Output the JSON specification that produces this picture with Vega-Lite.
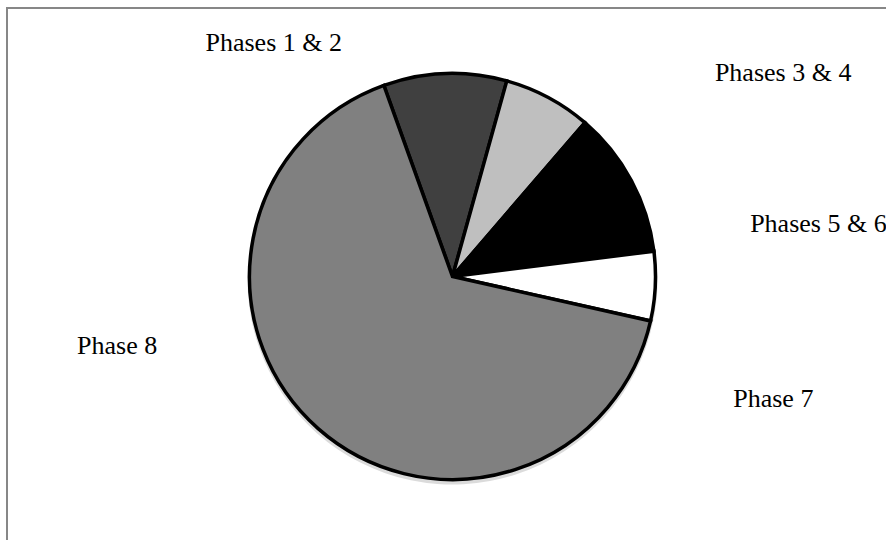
{
  "$schema": "https://vega.github.io/schema/vega-lite/v6.json",
  "usermeta": {"embedOptions": {"actions": false}},
  "autosize": {"type": "none"},
  "width": 891,
  "height": 537,
  "padding": {"left": 7, "top": 8, "right": -12, "bottom": -5},
  "background": "#ffffff",
  "config": {
    "view": {"stroke": null},
    "text": {"font": "Liberation Serif", "fontSize": 26, "fill": "#000000"}
  },
  "datasets": {
    "phases": [
      {"phase": "Phases 1 & 2", "k": 1, "value": 9.8},
      {"phase": "Phases 3 & 4", "k": 2, "value": 7.0},
      {"phase": "Phases 5 & 6", "k": 3, "value": 11.7},
      {"phase": "Phase 7", "k": 4, "value": 5.5},
      {"phase": "Phase 8", "k": 5, "value": 66.0}
    ],
    "frame": [{"name": "chart area"}]
  },
  "layer": [
    {
      "data": {"name": "frame"},
      "mark": {"type": "rect", "fill": null, "fillOpacity": 0, "stroke": "#878787", "strokeWidth": 2, "x2Offset": 40, "y2Offset": 40},
      "encoding": {}
    },
    {
      "data": {"name": "phases"},
      "encoding": {
        "theta": {"field": "value", "type": "quantitative", "stack": true, "scale": {"range": [-0.3449, 5.9383]}},
        "order": {"field": "k", "type": "quantitative"}
      },
      "layer": [
        {
          "mark": {"type": "arc", "outerRadius": 205, "fill": "#000000", "opacity": 0.14, "yOffset": 3},
          "encoding": {}
        },
        {
          "mark": {"type": "arc", "outerRadius": 203, "stroke": "#000000", "strokeWidth": 3.5, "strokeJoin": "miter"},
          "encoding": {
            "color": {
              "field": "phase",
              "type": "nominal",
              "scale": {
                "domain": ["Phases 1 & 2", "Phases 3 & 4", "Phases 5 & 6", "Phase 7", "Phase 8"],
                "range": ["#404040", "#bfbfbf", "#000000", "#ffffff", "#808080"]
              },
              "legend": null
            }
          }
        },
        {
          "mark": {
            "type": "text",
            "radius": 230,
            "baseline": "alphabetic",
            "align": {"expr": "datum.phase === 'Phases 1 & 2' || datum.phase === 'Phase 8' ? 'right' : 'left'"},
            "dx": {"expr": "datum.phase === 'Phases 1 & 2' ? -102 : datum.phase === 'Phases 3 & 4' ? 154 : datum.phase === 'Phases 5 & 6' ? 95 : datum.phase === 'Phase 7' ? 51 : -143"},
            "dy": {"expr": "datum.phase === 'Phases 1 & 2' ? 4 : datum.phase === 'Phases 3 & 4' ? 7 : datum.phase === 'Phases 5 & 6' ? 64 : datum.phase === 'Phase 7' ? 120 : -95"}
          },
          "encoding": {"text": {"field": "phase"}}
        }
      ]
    }
  ]
}
